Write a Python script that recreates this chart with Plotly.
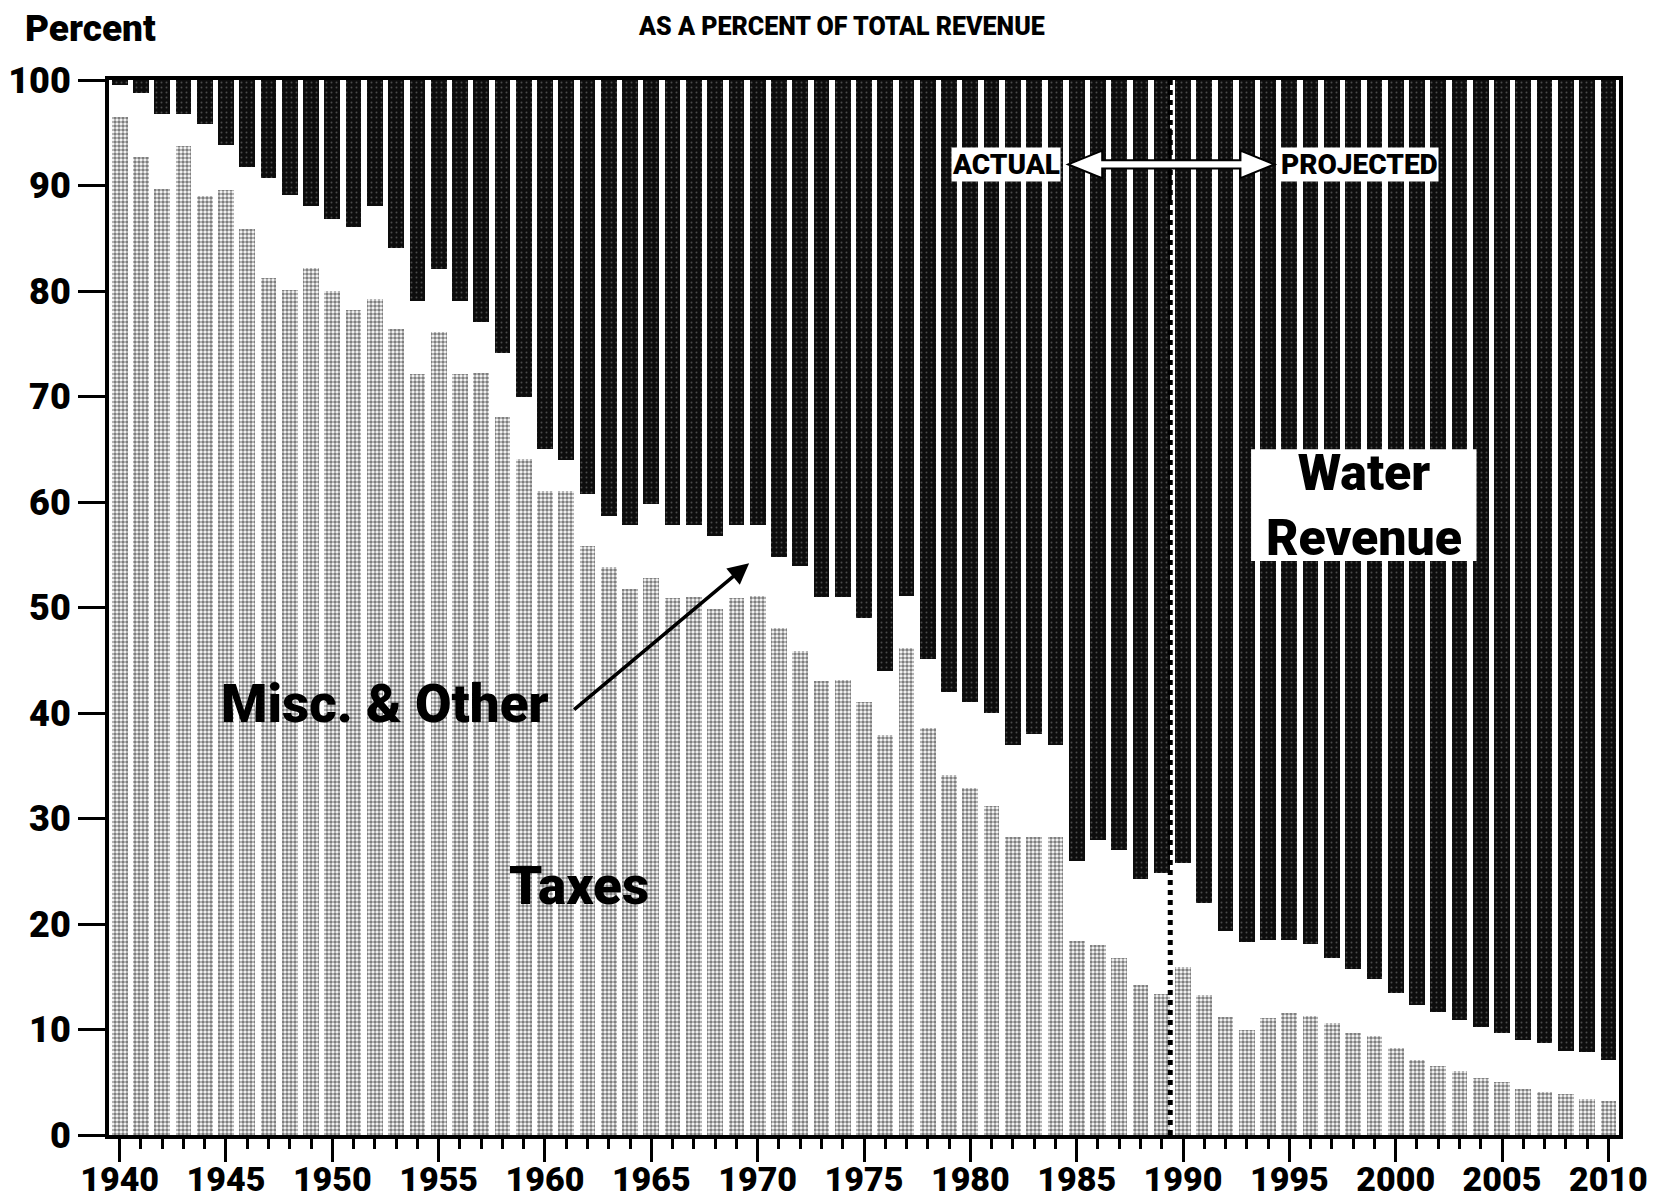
import plotly.graph_objects as go

years = list(range(1940, 2011))

taxes = [96.5, 92.7, 89.7, 93.7, 89.0, 89.6, 85.9, 81.2, 80.1, 82.2,
         80.0, 78.2, 79.2, 76.4, 72.1, 76.1, 72.1, 72.2, 68.1, 64.1,
         61.0, 61.0, 55.8, 53.8, 51.8, 52.8, 50.9, 51.0, 49.9, 50.9,
         51.1, 48.1, 45.9, 43.0, 43.1, 41.0, 37.9, 46.2, 38.6, 34.1,
         32.9, 31.2, 28.2, 28.2, 28.2, 18.4, 18.0, 16.8, 14.2, 13.4,
         15.9, 13.3, 11.2, 10.0, 11.1, 11.6, 11.3, 10.6, 9.7, 9.4,
         8.2, 7.1, 6.5, 6.1, 5.4, 5.0, 4.4, 4.1, 3.9, 3.4,
         3.2]

water = [0.5, 1.2, 3.2, 3.2, 4.2, 6.2, 8.2, 9.3, 10.9, 11.9,
         13.2, 13.9, 11.9, 15.9, 20.9, 17.9, 20.9, 22.9, 25.9, 30.0,
         35.0, 36.0, 39.2, 41.3, 42.2, 40.2, 42.2, 42.2, 43.2, 42.2,
         42.2, 45.2, 46.1, 49.0, 49.0, 51.0, 56.0, 48.9, 54.9, 58.0,
         59.0, 60.0, 63.0, 62.0, 63.0, 74.0, 72.0, 73.0, 75.7, 75.2,
         74.2, 78.0, 80.7, 81.7, 81.5, 81.5, 81.9, 83.2, 84.3, 85.2,
         86.5, 87.7, 88.3, 89.1, 89.8, 90.3, 91.0, 91.3, 92.0, 92.1,
         92.9]

misc = [round(100 - t - w, 2) for t, w in zip(taxes, water)]

y_ticks = [0, 10, 20, 30, 40, 50, 60, 70, 80, 90, 100]
x_ticks = list(range(1940, 2011, 5))

FONT = "Roboto"
BW = 0.74

fig = go.Figure()
fig.add_trace(go.Bar(
    x=years, y=taxes, name="Taxes", width=BW,
    marker=dict(color="#ffffff", line=dict(width=0),
                pattern=dict(shape=".", fgcolor="#000000", bgcolor="#ffffff",
                             size=4, solidity=0.62)),
))
fig.add_trace(go.Bar(
    x=years, y=misc, name="Misc. & Other", width=BW,
    marker=dict(color="rgba(255,255,255,0)", line=dict(width=0)),
))
fig.add_trace(go.Bar(
    x=years, y=water, name="Water Revenue", width=BW,
    marker=dict(color="#0d0d0d", line=dict(width=0),
                pattern=dict(shape=".", fgcolor="#8a8a8a", bgcolor="#0d0d0d",
                             size=5, solidity=0.12)),
))

big = dict(family=FONT, size=53, color="black", weight=900)
lab = dict(family=FONT, size=28, color="black", weight=900)

annotations = [
    dict(x=1952.5, y=40.9, xref="x", yref="y", text="Misc. & Other",
         showarrow=False, font=big),
    dict(x=1969.6, y=54.2, ax=1961.3, ay=40.2, xref="x", yref="y",
         axref="x", ayref="y", text="", showarrow=True, arrowhead=2,
         arrowsize=1.2, arrowwidth=3.5, arrowcolor="black"),
    dict(x=1961.6, y=23.6, xref="x", yref="y", text="Taxes",
         showarrow=False, font=big),
    dict(x=1998.5, y=59.7, xref="x", yref="y", text="Water<br>Revenue",
         showarrow=False, align="center",
         font=dict(family=FONT, size=50, color="black", weight=900)),
    dict(x=1981.7, y=92.0, xref="x", yref="y", text="ACTUAL",
         showarrow=False, font=lab, bgcolor="white", borderpad=0),
    dict(x=1998.3, y=92.0, xref="x", yref="y", text="PROJECTED",
         showarrow=False, font=lab, bgcolor="white", borderpad=0),
    dict(x=0.0, y=1.0, xref="paper", yref="paper", xshift=-86, yshift=28,
         text="Percent", showarrow=False, xanchor="left", yanchor="bottom",
         font=dict(family=FONT, size=37, color="black", weight=900)),
    dict(x=0.485, y=1.0, xref="paper", yref="paper", yshift=70,
         text="AS A PERCENT OF TOTAL REVENUE", showarrow=False,
         yanchor="top",
         font=dict(family=FONT, size=25, color="black", weight=900)),
]

shapes = [
    dict(type="rect", xref="x", yref="y", x0=1993.2, x1=2003.8, y0=54.4, y1=65.0,
         fillcolor="white", line=dict(width=0), layer="above"),
    dict(type="line", xref="x", yref="y", x0=1989.4, x1=1989.4, y0=0, y1=100,
         line=dict(color="black", width=5, dash="dot"), layer="above"),
    dict(type="line", xref="x", yref="y", x0=1989.4, x1=1989.4, y0=88.6, y1=95.4,
         line=dict(color="black", width=3), layer="above"),
    dict(type="path", xref="x", yref="y", layer="above",
         path=("M 1984.6,92 L 1986.2,93.3 L 1986.2,92.4 L 1992.7,92.4 "
               "L 1992.7,93.3 L 1994.3,92 L 1992.7,90.7 L 1992.7,91.6 "
               "L 1986.2,91.6 L 1986.2,90.7 Z"),
         fillcolor="white", line=dict(color="black", width=2)),
]

fig.update_layout(
    barmode="stack",
    bargap=0,
    width=1669, height=1203,
    margin=dict(l=101, r=58, t=72, b=76, pad=0),
    plot_bgcolor="white", paper_bgcolor="white",
    showlegend=False,
    annotations=annotations,
    shapes=shapes,
    font=dict(family=FONT, color="black"),
)

fig.update_xaxes(
    range=[1939.5, 2010.5], automargin=False,
    tickmode="array", tickvals=x_ticks, ticktext=[str(v) for v in x_ticks],
    ticks="outside", ticklen=23, tickwidth=3, tickcolor="black",
    ticklabelstandoff=-12,
    minor=dict(dtick=1, tick0=1940, ticks="outside", ticklen=10,
               tickwidth=3, tickcolor="black"),
    showline=True, linewidth=4, linecolor="black", mirror=True,
    showgrid=False, zeroline=False,
    tickfont=dict(family=FONT, size=34, color="black", weight=900),
)
fig.update_yaxes(
    range=[0, 100], automargin=False,
    tickmode="array", tickvals=y_ticks, ticktext=[str(v) for v in y_ticks],
    ticks="outside", ticklen=27, tickwidth=3, tickcolor="black",
    showline=True, linewidth=4, linecolor="black", mirror=True,
    showgrid=False, zeroline=False,
    tickfont=dict(family=FONT, size=36, color="black", weight=900),
)

fig.write_html("out.html")
